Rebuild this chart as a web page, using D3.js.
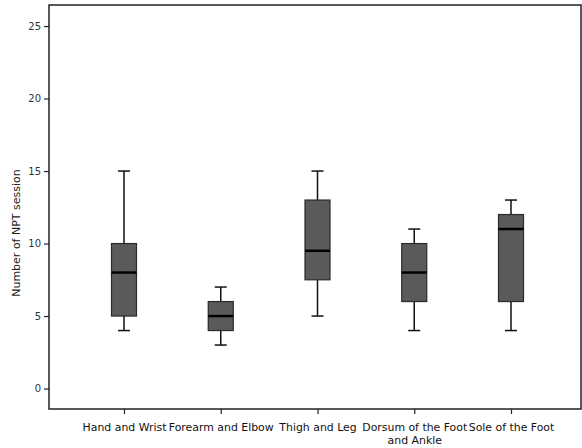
<!DOCTYPE html>
<html>
<head>
<meta charset="utf-8">
<script src="https://cdn.jsdelivr.net/npm/d3@7"></script>
<style>
  body { margin: 0; background: #fff; }
  svg { display: block; }
</style>
</head>
<body>
<svg width="582" height="448"></svg>
<script>
// box plot values
const regions = ["Hand and Wrist", "Forearm and Elbow", "Thigh and Leg", "Dorsum of the Foot|and Ankle", "Sole of the Foot"]
const whiskerLow = [4, 3, 5, 4, 4]
const q1 = [5, 4, 7.5, 6, 6]
const median = [8, 5, 9.5, 8, 11]
const q3 = [10, 6, 13, 10, 12]
const whiskerHigh = [15, 7, 15, 11, 13]
const yTicks = [0, 5, 10, 15, 20, 25]

const width = 582, height = 448
const margin = {top: 5, right: 1, bottom: 39, left: 49}

const svg = d3.select("svg")

const x = d3.scalePoint()
  .domain(regions)
  .range([124, 511])

const y = d3.scaleLinear()
  .domain([-1.41, 26.45])
  .range([height - margin.bottom, margin.top])

const data = regions.map((r, i) => ({
  name: r, lo: whiskerLow[i], q1: q1[i], med: median[i], q3: q3[i], hi: whiskerHigh[i]
}))

// frame
svg.append("rect")
  .attr("x", margin.left)
  .attr("y", margin.top)
  .attr("width", width - margin.right - margin.left)
  .attr("height", height - margin.bottom - margin.top)
  .attr("fill", "none")
  .attr("stroke", "#222")
  .attr("stroke-width", 1.5)

// y axis
svg.append("g")
  .attr("transform", `translate(${margin.left},0)`)
  .call(d3.axisLeft(y).tickValues(yTicks).tickSize(5).tickPadding(3))
  .call(g => g.select(".domain").remove())
  .call(g => g.selectAll("line").attr("stroke", "#222").attr("stroke-width", 1.2))
  .call(g => g.selectAll("text")
    .attr("font-family", "DejaVu Sans, sans-serif")
    .attr("font-size", 10)
    .attr("fill", "#333"))

svg.append("text")
  .attr("transform", "translate(16,233) rotate(-90)")
  .attr("text-anchor", "middle")
  .attr("dy", "0.35em")
  .attr("font-family", "DejaVu Sans, sans-serif")
  .attr("font-size", 11)
  .attr("fill", "#222")
  .text("Number of NPT session")

// x axis
const xa = svg.append("g")
  .attr("transform", `translate(0,${height - margin.bottom})`)
  .call(d3.axisBottom(x).tickSize(5).tickFormat(""))
  .call(g => g.select(".domain").remove())
  .call(g => g.selectAll("line").attr("stroke", "#222").attr("stroke-width", 1.2))

xa.selectAll(".tick").append("text")
  .attr("text-anchor", "middle")
  .attr("font-family", "DejaVu Sans, sans-serif")
  .attr("font-size", 10.9)
  .attr("fill", "#111")
  .selectAll("tspan")
  .data(d => d.split("|"))
  .join("tspan")
    .attr("x", 0)
    .attr("y", (d, i) => 22 + i * 12.5)
    .text(d => d)

// boxes
const boxW = 25, capW = 12
const g = svg.append("g")
  .selectAll("g")
  .data(data)
  .join("g")
  .attr("transform", d => `translate(${x(d.name)},0)`)

g.append("line")
  .attr("y1", d => y(d.lo)).attr("y2", d => y(d.hi))
  .attr("stroke", "#111").attr("stroke-width", 1.5)

g.selectAll(".cap")
  .data(d => [d.lo, d.hi])
  .join("line")
  .attr("x1", -capW / 2).attr("x2", capW / 2)
  .attr("y1", v => y(v)).attr("y2", v => y(v))
  .attr("stroke", "#111").attr("stroke-width", 1.5)

g.append("rect")
  .attr("x", -boxW / 2)
  .attr("width", boxW)
  .attr("y", d => y(d.q3))
  .attr("height", d => y(d.q1) - y(d.q3))
  .attr("fill", "#5a5a5a")
  .attr("stroke", "#2a2a2a")
  .attr("stroke-width", 1.2)

g.append("line")
  .attr("x1", -boxW / 2).attr("x2", boxW / 2)
  .attr("y1", d => y(d.med)).attr("y2", d => y(d.med))
  .attr("stroke", "#000").attr("stroke-width", 2.5)
</script>
</body>
</html>
